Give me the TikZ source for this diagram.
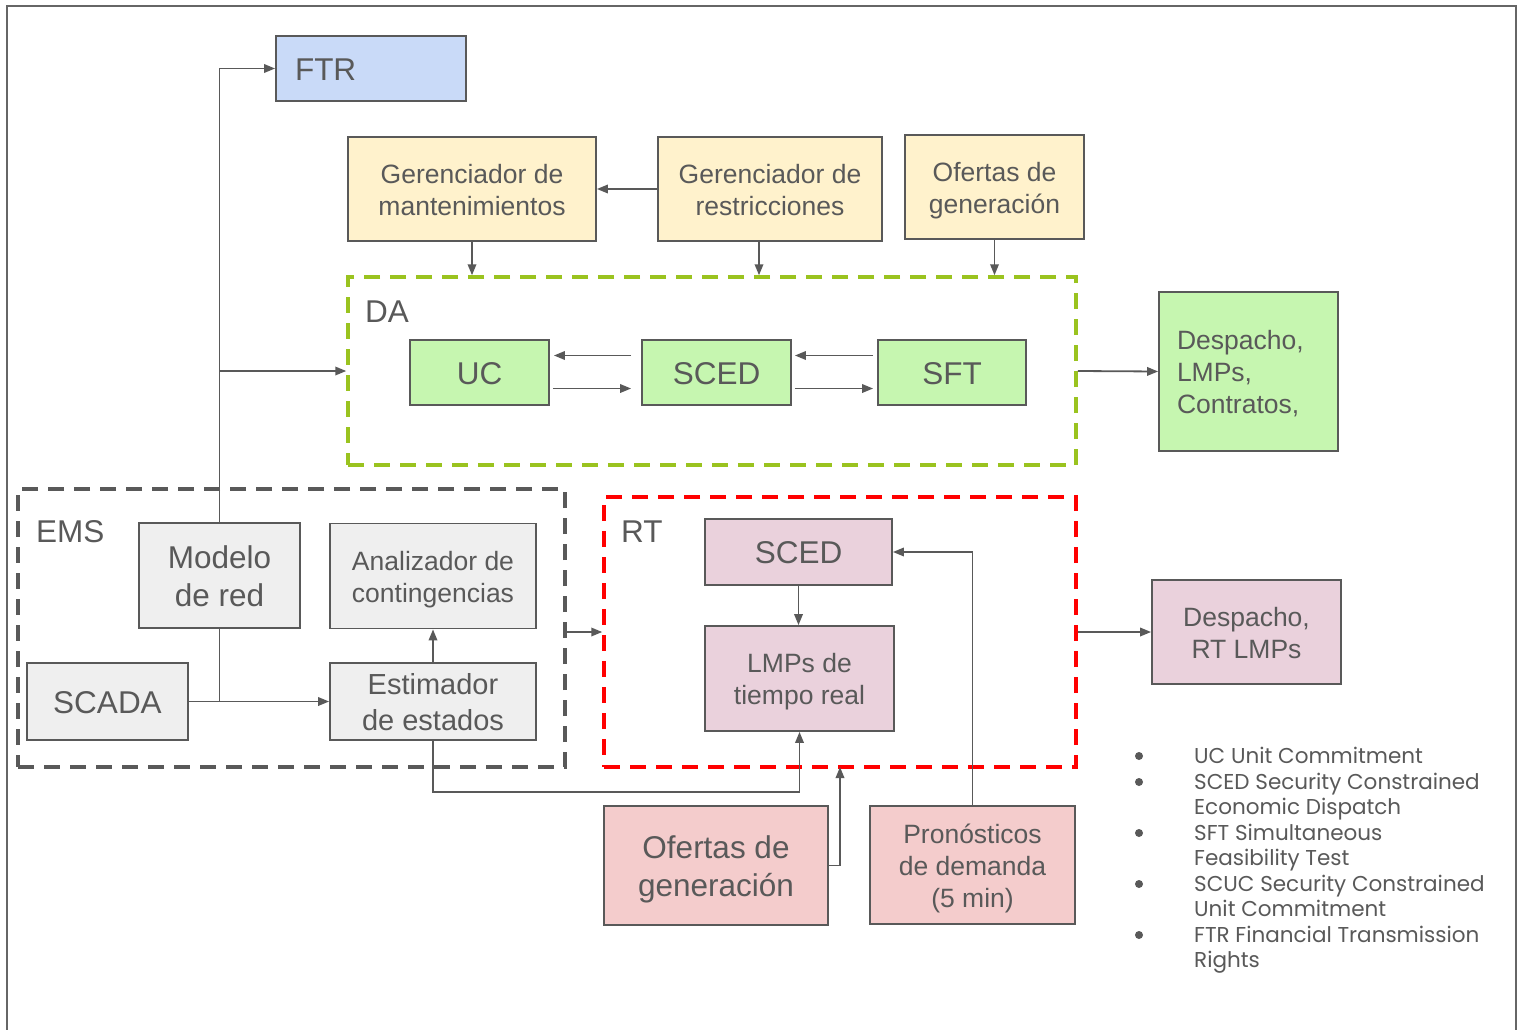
\documentclass[tikz,border=0pt]{standalone}
\usepackage{fontspec}
\setmainfont{Liberation Sans}
\newfontfamily\legfont{Poppins}
\usetikzlibrary{arrows.meta,calc}
\definecolor{ink}{HTML}{595959}
\definecolor{frame}{HTML}{666666}
\definecolor{ftrfill}{HTML}{C9DAF8}
\definecolor{yel}{HTML}{FFF2CC}
\definecolor{grn}{HTML}{C6F6B0}
\definecolor{grnline}{HTML}{9AC31F}
\definecolor{pinkA}{HTML}{EAD1DC}
\definecolor{pinkB}{HTML}{F4CCCC}
\definecolor{gry}{HTML}{EFEFEF}
\newcommand{\fsA}{\fontsize{26.5}{32}\selectfont}
\newcommand{\fsB}{\fontsize{31.5}{38}\selectfont}
\newcommand{\fsC}{\fontsize{29}{36}\selectfont}
\newcommand{\fsL}{\legfont\fontsize{21.5}{25}\selectfont}
% box text with fixed line ascent (first line) and descent (last line)
\newcommand{\bx}[1]{\rule{0pt}{\dimexpr0.905em+2pt\relax}#1\rule[-0.212em]{0pt}{0pt}}
\begin{document}
\begin{tikzpicture}[x=1pt,y=-1pt,
  box/.style={draw=ink, line width=1.8pt, text=ink, inner sep=0pt, align=center, font=\fsA},
  arr/.style={draw=ink, line width=1.8pt, -{Triangle[length=11pt,width=8.5pt]}},
  wire/.style={draw=ink, line width=1.8pt},
  grp/.style={line width=3.5pt, dash pattern=on 16pt off 10pt, inner sep=0pt},
  lbl/.style={text=ink, inner sep=0pt, anchor=base west, font=\fsB},
  leg/.style={text=ink, inner sep=0pt, anchor=base west, font=\fsL},
]
\useasboundingbox (0,0) rectangle (1523,1030);
\fill[white] (0,0) rectangle (1523,1030);
% outer frame
\draw[frame, line width=2pt] (7,1035) -- (7,6) -- (1516,6) -- (1516,1035);

% top row
\node[box, fill=ftrfill, minimum width=190, minimum height=65, text width=152, align=left, font=\fsB] (ftr) at (371,68.5) {\bx{FTR}};
\node[box, fill=yel, minimum width=248, minimum height=104] (gmant) at (472,189) {\bx{Gerenciador de\\mantenimientos}};
\node[box, fill=yel, minimum width=224, minimum height=104] (grest) at (770,189) {\bx{Gerenciador de\\restricciones}};
\node[box, fill=yel, minimum width=179, minimum height=104] (ofda) at (994.5,187) {\bx{Ofertas de\\generación}};

% day-ahead group
\node[grp, draw=grnline, minimum width=728, minimum height=188] (da) at (712,371) {};
\node[lbl] (dalbl) at (365,322) {DA};
\node[box, fill=grn, minimum width=139, minimum height=65, font=\fsB] (uc) at (479.5,372.5) {\bx{UC}};
\node[box, fill=grn, minimum width=149, minimum height=65, font=\fsB] (scedda) at (716.5,372.5) {\bx{SCED}};
\node[box, fill=grn, minimum width=148, minimum height=65, font=\fsB] (sft) at (952,372.5) {\bx{SFT}};
\node[box, fill=grn, minimum width=179, minimum height=159, text width=143, align=left] (dpda) at (1248.5,371.5) {\bx{Despacho,\\LMPs,\\Contratos,}};

% EMS group
\node[grp, draw=ink, minimum width=547, minimum height=278] (ems) at (291.5,628) {};
\node[lbl] (emslbl) at (36,542) {EMS};
\node[box, fill=gry, minimum width=161, minimum height=105, font=\fsB] (modelo) at (219.5,575.5) {\bx{Modelo\\de red}};
\node[box, fill=gry, minimum width=206, minimum height=105] (anal) at (433,576) {\bx{Analizador de\\contingencias}};
\node[box, fill=gry, minimum width=161, minimum height=77, font=\fsB] (scada) at (107.5,701.5) {\bx{SCADA}};
\node[box, fill=gry, minimum width=206, minimum height=77, font=\fsC] (estim) at (433,701.5) {\bx{Estimador\\de estados}};

% real-time group
\node[grp, draw=red, minimum width=472, minimum height=270] (rt) at (840,632) {};
\node[lbl] (rtlbl) at (621,542) {RT};
\node[box, fill=pinkA, minimum width=187, minimum height=66, font=\fsB] (rtsced) at (798.5,552) {\bx{SCED}};
\node[box, fill=pinkA, minimum width=189, minimum height=105] (lmps) at (799.5,678.5) {\bx{LMPs de\\tiempo real}};
\node[box, fill=pinkA, minimum width=189, minimum height=104] (dprt) at (1246.5,632) {\bx{Despacho,\\RT LMPs}};
\node[box, fill=pinkB, minimum width=224, minimum height=119, font=\fsB] (ofrt) at (716,865.5) {\bx{Ofertas de\\generación}};
\node[box, fill=pinkB, minimum width=205, minimum height=118] (pron) at (972.5,865) {\bx{Pronósticos\\de demanda\\(5 min)}};

% connectors
\draw[arr] (modelo.north) |- (ftr.west);
\draw[arr] (modelo.north |- da.west) -- (da.west);
\draw[wire] (modelo.south) -- (modelo.south |- scada.east);
\draw[arr] (scada.east) -- (estim.west);
\draw[arr] (estim.north) -- (anal.south);
\draw[arr] (estim.south) -- ++(0,51) -| (lmps.south);
\draw[arr] (ems.east |- rt.west) -- (rt.west);
\draw[arr] (rtsced.south) -- (rtsced.south |- lmps.north);
\draw[arr] (pron.north) |- (rtsced.east);
\coordinate (ofin) at (840,767);
\draw[arr] (ofrt.east) -| (ofin);
\draw[arr] (rt.east) -- (dprt.west);
\draw[arr] (da.east) -- (dpda.west);
\draw[arr] (grest.west) -- (gmant.east);
\draw[arr] (gmant.south) -- (gmant.south |- da.north);
\draw[arr] ($(grest.south)+(-11,0)$) -- ($(grest.south |- da.north)+(-11,0)$);
\draw[arr] (ofda.south) -- (ofda.south |- da.north);
% UC <-> SCED <-> SFT
\draw[arr] ($(scedda.west)+(-10,-17)$) -- ($(uc.east)+(4,-17)$);
\draw[arr] ($(uc.east)+(3,16)$) -- ($(scedda.west)+(-10,16)$);
\draw[arr] ($(sft.west)+(-4,-17)$) -- ($(scedda.east)+(3,-17)$);
\draw[arr] ($(scedda.east)+(3,16)$) -- ($(sft.west)+(-4,16)$);

% legend
\foreach \yy in {756,782,833,884,935}
  \fill[ink] (1139,\yy) circle (4);
\node[leg] (l1) at (1194,763.5) {UC Unit Commitment};
\node[leg] (l2) at (1194,789.5) {SCED Security Constrained};
\node[leg] (l2b) at (1194,814.5) {Economic Dispatch};
\node[leg] (l3) at (1194,840.5) {SFT Simultaneous};
\node[leg] (l3b) at (1194,865.5) {Feasibility Test};
\node[leg] (l4) at (1194,891.5) {SCUC Security Constrained};
\node[leg] (l4b) at (1194,916.5) {Unit Commitment};
\node[leg] (l5) at (1194,942.5) {FTR Financial Transmission};
\node[leg] (l5b) at (1194,967.5) {Rights};
\end{tikzpicture}
\end{document}
